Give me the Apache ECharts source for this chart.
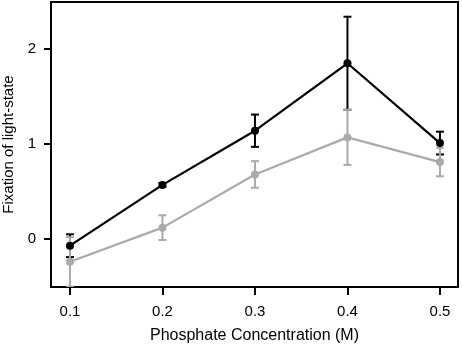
<!DOCTYPE html>
<html>
<head>
<meta charset="utf-8">
<script src="https://cdn.jsdelivr.net/npm/echarts@6/dist/echarts.min.js"></script>
<style>
  html, body { margin: 0; padding: 0; background: #fff; }
  #chart { width: 462px; height: 351px; }
</style>
</head>
<body>
<div id="chart"></div>
<script>
// concentrations (M)
let concentrations = [0.1, 0.2, 0.3, 0.4, 0.5];
// black series
let blackMean = [-0.07, 0.57, 1.14, 1.85, 1.01];
let blackErr = [0.12, 0.02, 0.17, 0.49, 0.12];
// grey series
let greyMean = [-0.24, 0.12, 0.68, 1.07, 0.81];
let greyErr = [0.26, 0.13, 0.14, 0.29, 0.15];
// tick labels
let xTicks = [0.1, 0.2, 0.3, 0.4, 0.5];
let yTicks = [0, 1, 2];

let chart = echarts.init(document.getElementById("chart"));

function pairs(xs, ys) {
    return xs.map(function (x, i) { return [x, ys[i]]; });
}
function errData(xs, ys, es) {
    return xs.map(function (x, i) { return [x, ys[i] - es[i], ys[i] + es[i]]; });
}

// error bar with caps
function errorBar(color) {
    return function (params, api) {
        let lo = api.coord([api.value(0), api.value(1)]);
        let hi = api.coord([api.value(0), api.value(2)]);
        let w = 4;
        let style = { stroke: color, lineWidth: 2 };
        return {
            type: "group",
            children: [
                { type: "line", shape: { x1: lo[0], y1: lo[1], x2: hi[0], y2: hi[1] }, style: style },
                { type: "line", shape: { x1: lo[0] - w, y1: lo[1], x2: lo[0] + w, y2: lo[1] }, style: style },
                { type: "line", shape: { x1: hi[0] - w, y1: hi[1], x2: hi[0] + w, y2: hi[1] }, style: style },
            ],
        };
    };
}

let font = "Liberation Sans";
let black = "#000000";
let grey = "#aaaaaa";

chart.setOption({
    animation: false,
    textStyle: { fontFamily: font },
    grid: {
        left: 51, right: 4, top: 2, bottom: 64,
        outerBoundsMode: "none",
        show: true, borderColor: "#000", borderWidth: 2,
    },
    xAxis: {
        type: "value",
        min: 0.0795,
        max: 0.5195,
        name: "Phosphate Concentration (M)",
        nameLocation: "middle",
        nameGap: 41,
        nameMoveOverlap: false,
        nameTextStyle: { color: "#000", fontSize: 16 },
        axisLine: { show: true, onZero: false, lineStyle: { color: "#000", width: 2 } },
        axisTick: { show: true, length: 8, customValues: xTicks, lineStyle: { color: "#000", width: 2 } },
        axisLabel: {
            customValues: xTicks, color: "#000", fontSize: 15, margin: 17,
            formatter: function (v) { return v.toFixed(1); },
        },
        splitLine: { show: false },
    },
    yAxis: {
        type: "value",
        min: -0.505,
        max: 2.495,
        name: "Fixation of light-state",
        nameLocation: "middle",
        nameGap: 35,
        nameMoveOverlap: false,
        nameTextStyle: { color: "#000", fontSize: 15 },
        axisLine: { show: true, onZero: false, lineStyle: { color: "#000", width: 2 } },
        axisTick: { show: true, length: 7, customValues: yTicks, lineStyle: { color: "#000", width: 2 } },
        axisLabel: { customValues: yTicks, color: "#000", fontSize: 15, margin: 15 },
        splitLine: { show: false },
    },
    series: [
        {
            type: "custom",
            renderItem: errorBar(black),
            data: errData(concentrations, blackMean, blackErr),
            clip: true,
            z: 2,
        },
        {
            type: "custom",
            renderItem: errorBar(grey),
            data: errData(concentrations, greyMean, greyErr),
            clip: true,
            z: 3,
        },
        {
            type: "line",
            data: pairs(concentrations, greyMean),
            symbol: "circle",
            symbolSize: 8,
            lineStyle: { color: grey, width: 2.2 },
            itemStyle: { color: grey },
            z: 4,
        },
        {
            type: "line",
            data: pairs(concentrations, blackMean),
            symbol: "circle",
            symbolSize: 8,
            lineStyle: { color: black, width: 2.2 },
            itemStyle: { color: black },
            z: 5,
        },
    ],
});

window.onresize = function () {
    chart.resize();
};
</script>
</body>
</html>
